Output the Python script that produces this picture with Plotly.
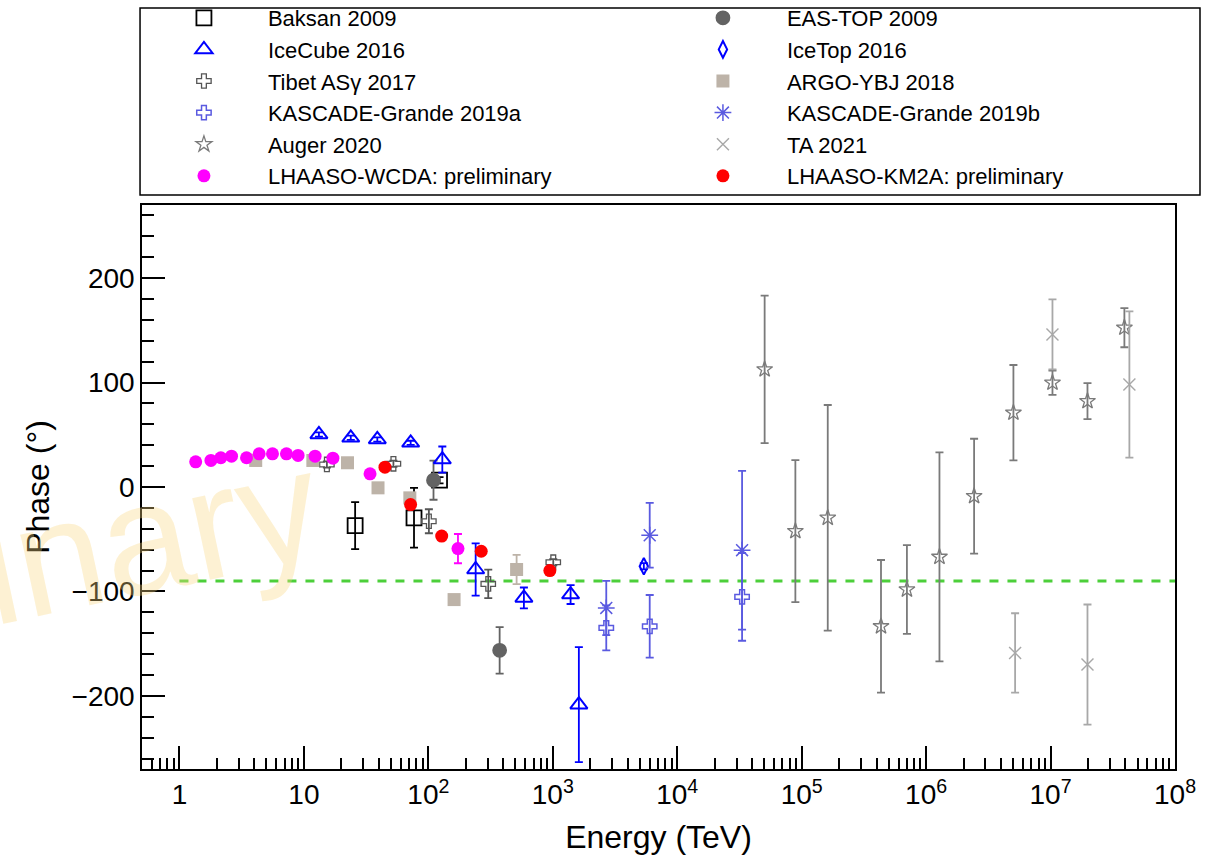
import plotly.graph_objects as go
import math

# ---------------- data ----------------
baksan_E = [25.8, 76.7, 123]
baksan_v = [-36.9, -29.5, 6.5]
baksan_err = [22.5, 28.6, 3]

eastop_E = [110, 374]
eastop_v = [6.5, -156.4]
eastop_err = [18.7, 22.3]

icecube_E = [13.2, 23.8, 38.9, 72.1, 129.5, 240, 586, 1390, 1620]
icecube_v = [50.3, 47.1, 45.5, 42.3, 26.3, -79, -106.2, -103, -208.4]
icecube_err = [2, 2, 2, 2, 12.5, 25, 10, 9, 55]

icetop_E = [5390]
icetop_v = [-75.9]
icetop_err = [3]

tibet_E = [15.3, 52.4, 101, 303, 1009]
tibet_v = [21.6, 22.2, -32.8, -92.8, -72]
tibet_err = [3, 3, 11.5, 13.6, 3]

argo_E = [4.1, 11.8, 22.4, 39.4, 71, 161, 512]
argo_v = [25.4, 25.4, 23.2, -0.8, -10.4, -107.8, -79]
argo_err = [2, 2, 2, 2, 3, 3, 14]

kga_E = [2690, 6010, 33200]
kga_v = [-134.9, -133.4, -105.2]
kga_err = [21.5, 30, 42]

kgb_E = [2690, 6010, 33200]
kgb_v = [-115.8, -46.2, -60.5]
kgb_err = [26, 31, 76]

auger_E = [5.04e4, 8.9e4, 1.62e5, 4.34e5, 7.01e5, 1.28e6, 2.43e6, 5.03e6, 1.036e7, 1.98e7, 3.92e7]
auger_v = [112.6, -42.3, -29.5, -133.4, -98.2, -66.9, -8.8, 71.1, 99.8, 82.2, 152.5]
auger_err = [70.6, 68, 108, 63.5, 42.5, 100, 55, 45.7, 11.6, 17.3, 18.7]

ta_E = [5.19e6, 1.036e7, 1.98e7, 4.3e7]
ta_v = [-158.9, 146.1, -170, 98.2]
ta_err = [38, 33.5, 57.5, 70]

wcda_E = [1.35, 1.79, 2.15, 2.62, 3.46, 4.37, 5.59, 7.24, 8.98, 12.3, 17.1, 34, 173]
wcda_v = [24.1, 25.4, 28, 29.5, 28, 31.8, 31.8, 31.8, 30.2, 29.5, 27.6, 12.6, -59]
wcda_err = [1, 1, 1, 1, 1, 1, 1, 1, 1, 1, 1, 2, 14]

km2a_E = [44.8, 72, 128, 266, 947]
km2a_v = [19, -16.8, -47, -61.5, -80]
km2a_err = [2, 2, 2, 2, 2]

ref_E = [1, 1e8]
ref_v = [-90, -90]

x_tickvals = [1, 10, 1e2, 1e3, 1e4, 1e5, 1e6, 1e7, 1e8]
x_ticktext = ["1", "10", "10<sup>2</sup>", "10<sup>3</sup>", "10<sup>4</sup>",
              "10<sup>5</sup>", "10<sup>6</sup>", "10<sup>7</sup>", "10<sup>8</sup>"]
y_tickvals = [-200, -100, 0, 100, 200]

FONT = "Liberation Sans, Arial, Helvetica, sans-serif"

fig = go.Figure()

def add(name, E, v, err, color, symbol, size, lw=1.8, opacity=1.0):
    fig.add_trace(go.Scatter(
        x=E, y=v, mode="markers", name=name, opacity=opacity,
        marker=dict(symbol=symbol, size=size, color=color,
                    line=dict(color=color, width=lw)),
        error_y=dict(type="data", array=err, color=color, thickness=1.8, width=4),
    ))

# reference line
fig.add_trace(go.Scatter(x=ref_E, y=ref_v, mode="lines", showlegend=False,
                         line=dict(color="#4ccf3a", width=3, dash="dash"),
                         hoverinfo="skip"))

add("Baksan 2009", baksan_E, baksan_v, baksan_err, "#000000", "square-open", 15)
add("EAS-TOP 2009", eastop_E, eastop_v, eastop_err, "#636363", "circle", 13)
add("IceCube 2016", icecube_E, icecube_v, icecube_err, "#0000ff", "triangle-up-open", 15, lw=2)
add("IceTop 2016", icetop_E, icetop_v, icetop_err, "#0000ff", "diamond-tall-open", 12, lw=2)
add("Tibet AS\u03b3 2017", tibet_E, tibet_v, tibet_err, "#555555", "cross-open", 12, lw=1.3)
add("ARGO-YBJ 2018", argo_E, argo_v, argo_err, "#bdb3a8", "square", 13, lw=0)
add("KASCADE-Grande 2019a", kga_E, kga_v, kga_err, "#5a5ae0", "cross-open", 12, lw=1.5)
add("KASCADE-Grande 2019b", kgb_E, kgb_v, kgb_err, "#5a5ae0", "asterisk-open", 14, lw=1.5)
add("Auger 2020", auger_E, auger_v, auger_err, "#7a7a7a", "star-open", 12, lw=1.3)
add("TA 2021", ta_E, ta_v, ta_err, "#a8a8a8", "x-thin-open", 12, lw=1.4)
add("LHAASO-WCDA: preliminary", wcda_E, wcda_v, wcda_err, "#ff00ff", "circle", 13, lw=0)
add("LHAASO-KM2A: preliminary", km2a_E, km2a_v, km2a_err, "#ff0000", "circle", 13, lw=0)

minor_x = [m * 10 ** d for d in range(-1, 8) for m in range(2, 10)]
minor_x = [v for v in minor_x if 0.5 <= v <= 1e8]

fig.update_xaxes(
    type="log", range=[math.log10(0.5), 8],
    tickvals=x_tickvals, ticktext=x_ticktext,
    ticks="inside", ticklen=23, tickwidth=1.5, tickcolor="black",
    minor=dict(tickvals=minor_x, ticks="inside", ticklen=11, tickwidth=1.5, tickcolor="black", showgrid=False),
    showline=True, linecolor="black", linewidth=1.5, mirror=True,
    showgrid=False, zeroline=False,
    tickfont=dict(family=FONT, size=28, color="black"),
    title=dict(text="Energy (TeV)", font=dict(family=FONT, size=32, color="black"), standoff=16),
)
fig.update_yaxes(
    range=[-270, 270],
    tickvals=y_tickvals,
    ticks="inside", ticklen=23, tickwidth=1.5, tickcolor="black",
    minor=dict(dtick=20, ticks="inside", ticklen=12, tickwidth=1.5, tickcolor="black", showgrid=False),
    showline=True, linecolor="black", linewidth=1.5, mirror=True,
    showgrid=False, zeroline=False,
    tickfont=dict(family=FONT, size=28, color="black"),
    title=dict(text="Phase (\u00b0)", font=dict(family=FONT, size=32, color="black"), standoff=12),
)

fig.add_annotation(
    text="Preliminary", xref="paper", yref="paper", x=-0.205, y=0.33,
    xanchor="center", yanchor="middle", showarrow=False, textangle=-12,
    font=dict(family=FONT, size=158, color="rgba(250,215,130,0.35)"),
)

# legend frame
fig.add_shape(type="rect", xref="paper", yref="paper",
              x0=-0.0019, x1=1.0242, y0=1.0177, y1=1.3493,
              line=dict(color="black", width=1.5), fillcolor="rgba(0,0,0,0)")

fig.update_layout(
    width=1217, height=865,
    margin=dict(l=142, r=42, t=205, b=96, autoexpand=False),
    plot_bgcolor="white", paper_bgcolor="white",
    font=dict(family=FONT, color="black"),
    legend=dict(
        orientation="h", x=-0.002, y=1.3688, xanchor="left", yanchor="top",
        entrywidth=386, entrywidthmode="pixels", itemwidth=118,
        font=dict(family=FONT, size=22, color="black"),
        borderwidth=0, bgcolor="rgba(0,0,0,0)",
        traceorder="normal",
    ),
)

fig.write_html("out.html")
